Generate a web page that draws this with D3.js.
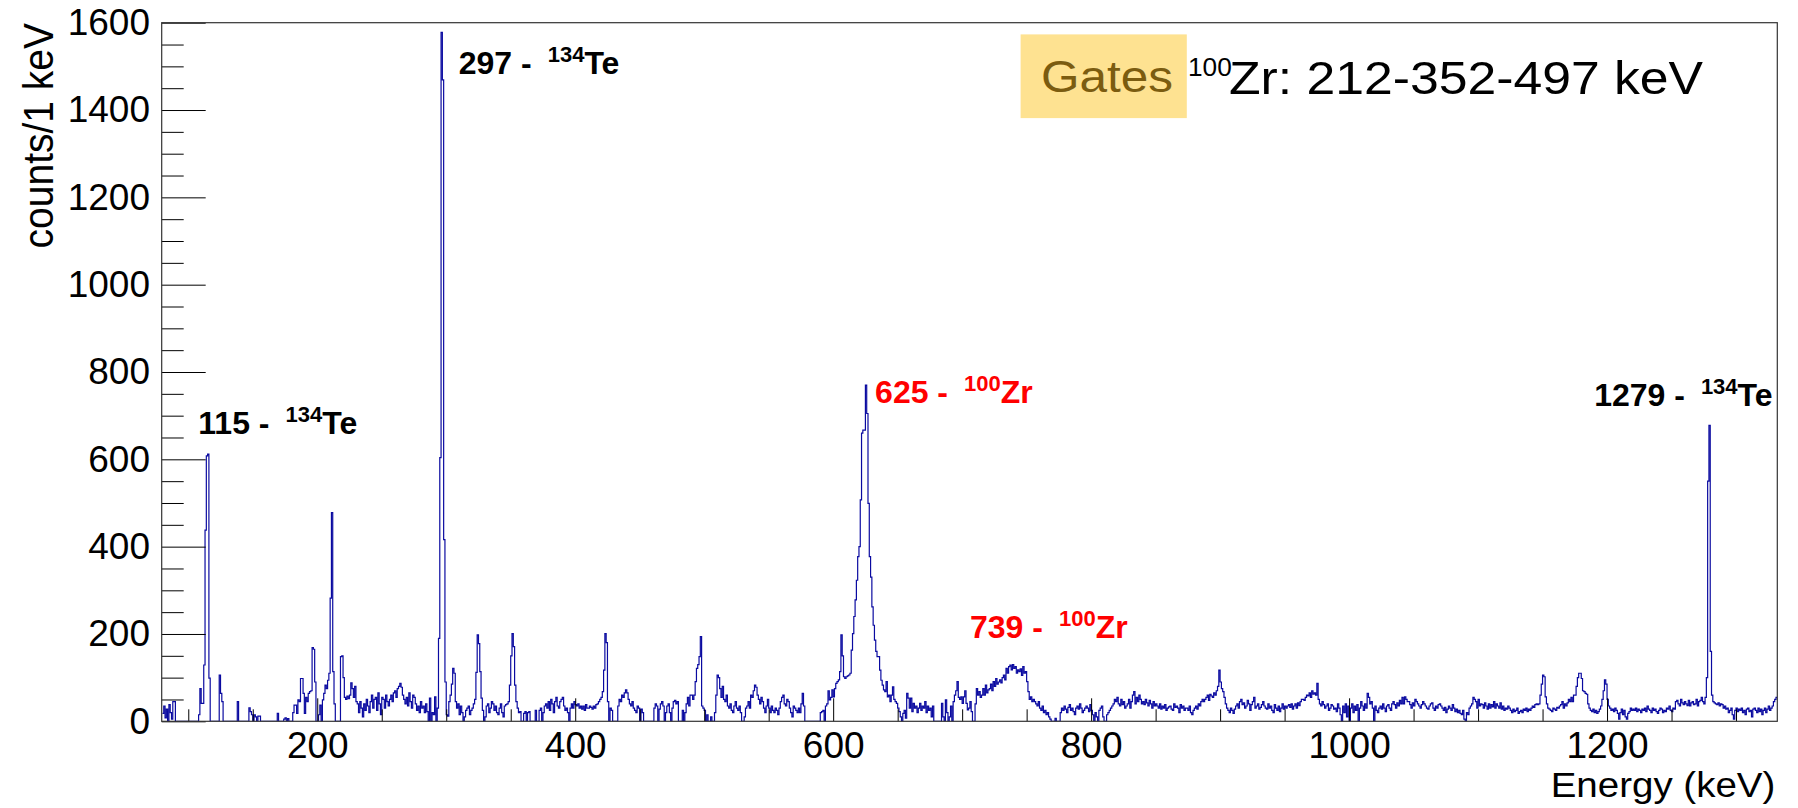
<!DOCTYPE html>
<html>
<head>
<meta charset="utf-8">
<title>Gamma-ray spectrum gated on 100Zr</title>
<script src="https://cdn.jsdelivr.net/npm/d3@7/dist/d3.min.js"></script>
<style>
  html, body { margin: 0; padding: 0; background: #ffffff; }
  svg { display: block; }
  text { font-family: "Liberation Sans", Arial, Helvetica, sans-serif; }
</style>
</head>
<body>
<svg id="chart" width="1798" height="808"></svg>
<script>
// ---- spectrum: 1 keV bins starting at 80 keV ----
const binLow = 80;
const binWidth = 1;
const counts = [
  18, 35, 8, 28, 0, 38, 20, 5, 45, 45,
  0, 0, 0, 0, 0, 0, 0, 0, 0, 0,
  0, 0, 0, 0, 0, 0, 0, 0, 15, 75,
  41, 41, 129, 438, 608, 612, 99, 0, 0, 0,
  0, 0, 0, 0, 106, 64, 45, 0, 0, 0,
  0, 0, 0, 0, 0, 0, 0, 0, 45, 0,
  0, 0, 0, 0, 0, 0, 0, 31, 22, 15,
  0, 15, 10, 0, 12, 12, 0, 0, 0, 0,
  0, 0, 0, 0, 0, 0, 0, 0, 0, 18,
  0, 0, 0, 0, 5, 8, 0, 6, 0, 0,
  0, 20, 37, 37, 18, 49, 45, 98, 98, 64,
  18, 55, 45, 64, 68, 70, 169, 165, 90, 0,
  0, 15, 37, 0, 49, 64, 83, 75, 94, 110,
  282, 478, 114, 40, 0, 0, 0, 0, 148, 150,
  100, 55, 50, 58, 52, 60, 88, 75, 55, 80,
  45, 40, 20, 45, 30, 10, 40, 25, 50, 35,
  20, 45, 60, 30, 50, 55, 25, 65, 40, 15,
  55, 50, 30, 60, 45, 35, 50, 60, 45, 65,
  70, 55, 75, 80, 87, 78, 60, 50, 40, 55,
  35, 65, 45, 30, 60, 55, 40, 25, 35, 20,
  45, 30, 35, 20, 40, 22, 0, 53, 0, 20,
  15, 56, 0, 30, 190, 604, 1578, 1469, 416, 90,
  15, 12, 45, 60, 85, 121, 110, 45, 30, 40,
  15, 35, 20, 0, 10, 25, 30, 35, 15, 25,
  30, 40, 50, 112, 198, 178, 114, 53, 25, 0,
  10, 35, 40, 20, 30, 45, 40, 25, 35, 20,
  15, 30, 40, 20, 10, 35, 38, 40, 45, 83,
  150, 201, 171, 83, 45, 30, 20, 22, 0, 0,
  18, 22, 0, 20, 22, 0, 0, 0, 0, 25,
  0, 0, 25, 30, 0, 20, 35, 40, 30, 45,
  25, 50, 40, 20, 45, 55, 35, 30, 45, 50,
  55, 35, 25, 30, 20, 0, 30, 40, 30, 45,
  38, 35, 40, 30, 35, 28, 35, 25, 38, 30,
  30, 35, 32, 28, 35, 30, 38, 40, 45, 50,
  55, 68, 117, 201, 180, 45, 0, 30, 25, 0,
  0, 0, 0, 35, 50, 45, 60, 55, 65, 72,
  65, 50, 40, 35, 45, 30, 25, 20, 35, 30,
  0, 28, 20, 0, 0, 0, 0, 0, 0, 0,
  0, 30, 40, 35, 0, 28, 40, 45, 35, 0,
  20, 35, 40, 20, 0, 30, 45, 48, 40, 45,
  0, 0, 0, 25, 0, 20, 40, 55, 35, 60,
  60, 50, 60, 91, 121, 130, 148, 194, 35, 30,
  25, 0, 15, 0, 0, 10, 0, 0, 20, 60,
  106, 100, 75, 55, 80, 50, 45, 60, 35, 30,
  40, 25, 20, 35, 45, 30, 25, 35, 20, 0,
  0, 10, 30, 35, 45, 30, 60, 55, 70, 83,
  78, 60, 50, 40, 55, 45, 30, 20, 35, 50,
  30, 20, 35, 25, 20, 30, 25, 15, 30, 45,
  55, 60, 40, 35, 50, 45, 30, 20, 10, 35,
  30, 25, 20, 30, 20, 40, 64, 35, 0, 0,
  0, 0, 0, 0, 0, 0, 0, 0, 0, 0,
  20, 22, 25, 0, 35, 40, 70, 49, 55, 72,
  56, 75, 87, 91, 95, 114, 198, 150, 102, 98,
  102, 104, 106, 110, 163, 201, 240, 278, 323, 377,
  400, 507, 660, 667, 667, 770, 705, 499, 377, 330,
  262, 220, 186, 160, 148, 148, 117, 94, 83, 72,
  68, 91, 56, 60, 45, 60, 79, 50, 45, 41,
  30, 22, 10, 0, 18, 25, 7, 64, 53, 30,
  53, 22, 41, 30, 35, 20, 30, 41, 25, 35,
  30, 45, 20, 35, 25, 30, 10, 35, 0, 0,
  0, 0, 0, 0, 41, 10, 0, 49, 20, 0,
  10, 35, 0, 45, 60, 70, 91, 55, 50, 56,
  41, 56, 70, 41, 26, 30, 45, 22, 0, 0,
  40, 75, 60, 68, 55, 60, 75, 60, 83, 65,
  72, 75, 85, 70, 91, 80, 98, 85, 90, 95,
  88, 100, 106, 95, 121, 110, 125, 129, 118, 130,
  121, 125, 110, 118, 114, 120, 105, 125, 110, 114,
  91, 68, 50, 56, 45, 50, 45, 40, 35, 45,
  30, 25, 35, 20, 25, 15, 20, 10, 5, 0,
  0, 0, 7, 0, 0, 0, 20, 30, 25, 35,
  28, 20, 32, 38, 25, 30, 22, 15, 30, 35,
  28, 40, 30, 20, 25, 30, 35, 30, 22, 38,
  25, 15, 0, 20, 10, 0, 25, 30, 35, 10,
  0, 0, 15, 20, 25, 30, 35, 40, 50, 45,
  55, 40, 35, 50, 38, 45, 30, 35, 40, 50,
  30, 45, 60, 68, 40, 55, 45, 60, 50, 40,
  45, 38, 50, 42, 35, 48, 40, 30, 45, 35,
  40, 35, 30, 40, 28, 35, 30, 38, 25, 30,
  33, 35, 28, 25, 40, 32, 35, 30, 20, 38,
  30, 35, 25, 30, 30, 25, 35, 20, 15, 25,
  30, 35, 28, 40, 35, 45, 50, 45, 50, 55,
  60, 48, 62, 58, 55, 65, 60, 70, 80, 117,
  90, 75, 68, 55, 40, 30, 25, 20, 30, 25,
  18, 28, 35, 40, 30, 45, 50, 38, 42, 30,
  35, 48, 40, 25, 38, 45, 55, 30, 35, 40,
  28, 32, 38, 45, 35, 30, 28, 40, 30, 35,
  25, 20, 38, 30, 25, 35, 22, 30, 40, 28,
  35, 30, 35, 38, 32, 40, 28, 35, 40, 30,
  42, 36, 45, 50, 50, 48, 55, 60, 58, 65,
  55, 70, 62, 65, 60, 87, 50, 40, 35, 45,
  38, 30, 35, 40, 25, 30, 38, 35, 28, 30,
  22, 40, 30, 15, 0, 35, 20, 40, 10, 35,
  0, 30, 40, 20, 35, 25, 38, 0, 30, 45,
  35, 25, 40, 30, 64, 55, 40, 45, 30, 0,
  35, 25, 20, 30, 35, 28, 40, 30, 22, 35,
  38, 30, 25, 40, 45, 38, 30, 42, 35, 48,
  40, 55, 40, 56, 50, 45, 45, 38, 30, 42,
  35, 50, 45, 40, 35, 30, 38, 45, 40, 35,
  30, 28, 35, 40, 42, 30, 25, 35, 30, 38,
  40, 35, 30, 25, 32, 20, 28, 35, 30, 25,
  38, 30, 22, 28, 20, 25, 18, 15, 25, 5,
  0, 20, 15, 30, 35, 40, 55, 50, 45, 30,
  50, 35, 40, 38, 30, 42, 35, 28, 40, 30,
  38, 33, 45, 30, 40, 35, 30, 42, 28, 35,
  25, 30, 28, 35, 30, 25, 20, 28, 22, 25,
  30, 18, 22, 25, 20, 28, 25, 30, 22, 28,
  25, 30, 35, 32, 38, 40, 38, 40, 60, 85,
  106, 102, 56, 40, 30, 28, 25, 22, 30, 28,
  25, 32, 30, 35, 38, 45, 30, 40, 35, 42,
  50, 45, 55, 45, 60, 60, 80, 100, 110, 110,
  98, 70, 68, 64, 62, 40, 30, 25, 22, 28,
  20, 25, 18, 22, 28, 35, 50, 70, 95, 85,
  50, 35, 30, 25, 28, 22, 30, 25, 18, 5,
  20, 28, 15, 25, 10, 5, 18, 22, 30, 25,
  28, 25, 30, 22, 28, 25, 20, 28, 25, 30,
  22, 35, 28, 25, 20, 30, 25, 28, 22, 18,
  25, 30, 28, 20, 25, 22, 30, 28, 35, 25,
  22, 30, 28, 45, 48, 40, 35, 50, 42, 38,
  45, 40, 36, 48, 35, 42, 45, 38, 40, 50,
  35, 45, 48, 55, 45, 40, 55, 100, 550, 678,
  160, 60, 45, 42, 40, 38, 42, 35, 40, 38,
  30, 35, 28, 30, 20, 25, 30, 15, 5, 25,
  30, 22, 28, 25, 30, 20, 25, 15, 28, 30,
  22, 25, 10, 28, 30, 25, 20, 30, 22, 28,
  15, 25, 30, 20, 28, 35, 25, 30, 35, 45,
  50, 55
];

// ---- axes ----
const energyRange = [79.4, 1332];
const countRange = [0, 1600];
const xTickValues = [200, 400, 600, 800, 1000, 1200];
const yTickValues = [0, 200, 400, 600, 800, 1000, 1200, 1400, 1600];

// ---- peak identifications ----
const peakEnergyText = ["115", "297", "625", "739", "1279"];
const peakMass = ["134", "134", "100", "100", "134"];
const peakElement = ["Te", "Te", "Zr", "Zr", "Te"];
// label anchors in data coordinates (keV, counts)
const labelAnchorEnergy = [107.8, 309.7, 632.5, 706.1, 1190];
const labelAnchorCounts = [658, 1483, 728, 190, 722];

// ---- gate description ----
const gateWord = "Gates";
const gateMass = "100";
const gateText = "Zr: 212-352-497 keV";

const elementColor = { Te: "#000000", Zr: "#ff0000" };

const svg = d3.select("#chart");
const frame = { left: 161.7, right: 1777.3, top: 22.7, bottom: 721.3 };

const x = d3.scaleLinear().domain(energyRange).range([frame.left, frame.right]);
const y = d3.scaleLinear().domain(countRange).range([frame.bottom, frame.top]);

svg.append("defs").append("clipPath").attr("id", "plotArea")
  .append("rect")
  .attr("x", frame.left).attr("y", frame.top)
  .attr("width", frame.right - frame.left)
  .attr("height", frame.bottom - frame.top);

// histogram outline drawn as steps
const points = counts.map((c, i) => [binLow + i * binWidth, c]);
points.push([binLow + counts.length * binWidth, counts[counts.length - 1]]);
const step = d3.line()
  .x(d => x(d[0]))
  .y(d => y(d[1]))
  .curve(d3.curveStepAfter);

svg.append("path")
  .attr("d", step(points))
  .attr("fill", "none")
  .attr("stroke", "#0a0aa0")
  .attr("stroke-width", 1.2)
  .attr("stroke-linejoin", "miter")
  .attr("clip-path", "url(#plotArea)");

// minor ticks every 50
const yMinor = d3.range(50, 1600, 50).filter(v => v % 200 !== 0);
const xMinor = d3.range(100, 1332, 50).filter(v => v % 200 !== 0);

const yAxisMajor = d3.axisLeft(y).tickValues(yTickValues).tickSize(-44).tickPadding(11.7).tickFormat(d3.format("d"));
const yAxisMinor = d3.axisLeft(y).tickValues(yMinor).tickSize(-22).tickFormat("");
const xAxisMajor = d3.axisBottom(x).tickValues(xTickValues).tickSize(-23).tickPadding(10.5).tickFormat(d3.format("d"));
const xAxisMinor = d3.axisBottom(x).tickValues(xMinor).tickSize(-12).tickFormat("");

function styleAxis(g, fontSize) {
  g.select(".domain").remove();
  g.selectAll(".tick line").attr("stroke", "#000").attr("stroke-width", 1);
  g.selectAll(".tick text")
    .attr("fill", "#000")
    .attr("font-size", fontSize)
    .attr("font-family", "'Liberation Sans', Arial, Helvetica, sans-serif");
}

svg.append("g").attr("transform", `translate(${frame.left},0)`).call(yAxisMinor).call(g => styleAxis(g, 37));
svg.append("g").attr("transform", `translate(${frame.left},0)`).call(yAxisMajor).call(g => styleAxis(g, 37));
svg.append("g").attr("transform", `translate(0,${frame.bottom})`).call(xAxisMinor).call(g => styleAxis(g, 37));
svg.append("g").attr("transform", `translate(0,${frame.bottom})`).call(xAxisMajor).call(g => styleAxis(g, 37));

// frame
svg.append("rect")
  .attr("x", frame.left).attr("y", frame.top)
  .attr("width", frame.right - frame.left)
  .attr("height", frame.bottom - frame.top)
  .attr("fill", "none")
  .attr("stroke", "#333")
  .attr("stroke-width", 1.2);

// axis titles
svg.append("text")
  .attr("transform", "translate(53,23) scale(1.1,1) rotate(-90)")
  .attr("text-anchor", "end")
  .attr("font-size", 39)
  .attr("fill", "#000")
  .text("counts/1 keV");

svg.append("text")
  .attr("transform", `translate(${frame.right - 2},797) scale(1.1,1)`)
  .attr("text-anchor", "end")
  .attr("font-size", 35)
  .attr("fill", "#000")
  .text("Energy (keV)");

// peak labels
peakEnergyText.forEach((e, i) => {
  const t = svg.append("text")
    .attr("x", x(labelAnchorEnergy[i]))
    .attr("y", y(labelAnchorCounts[i]))
    .attr("font-size", 32)
    .attr("font-weight", "bold")
    .attr("fill", elementColor[peakElement[i]]);
  t.append("tspan").text(`${e} -`);
  t.append("tspan").attr("dx", 16).attr("dy", -12).attr("font-size", 22).text(peakMass[i]);
  t.append("tspan").attr("dy", 12).text(peakElement[i]);
});

// gate box
const gate = svg.append("g");
gate.append("rect")
  .attr("x", 1020.6).attr("y", 34.4)
  .attr("width", 166.2).attr("height", 83.7)
  .attr("fill", "#fee291");
gate.append("text")
  .attr("transform", "translate(1041,92) scale(1.1,1)")
  .attr("font-size", 45)
  .attr("fill", "#7b5c10")
  .text(gateWord);
gate.append("text")
  .attr("transform", "translate(1188,76) scale(1.05,1)")
  .attr("font-size", 25)
  .attr("fill", "#000")
  .text(gateMass);
gate.append("text")
  .attr("transform", "translate(1229,94) scale(1.1,1)")
  .attr("font-size", 47)
  .attr("fill", "#000")
  .text(gateText);
</script>
</body>
</html>
